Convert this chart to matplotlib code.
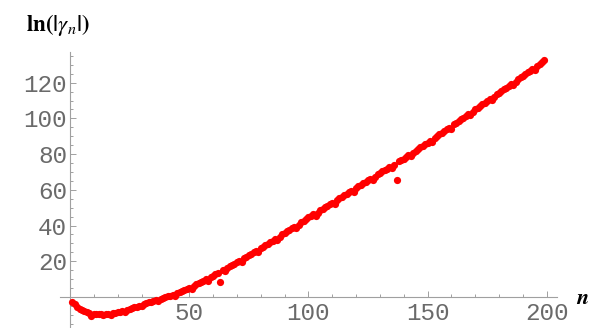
import matplotlib.pyplot as plt
from matplotlib.ticker import MultipleLocator, FixedLocator
import numpy as np

plt.rcParams['mathtext.fontset'] = 'stix'

# n = 1 .. 199
n_vals = np.arange(1, 200)

ln_gamma = [
    -2.6, -4.2, -5.6, -6.6, -7.4, -8.0, -8.5, -9.0, -10.4, -9.4,
    -9.6, -9.8, -9.8, -9.9, -9.7, -9.5, -10.2, -9.1, -8.8, -8.5,
    -8.2, -7.8, -8.6, -7.2, -6.8, -6.3, -5.9, -5.4, -4.9, -5.3,
    -3.9, -3.4, -3.1, -2.6, -2.2, -1.8, -2.4, -1.0, -0.6, -0.3,
    0.3, 0.8, 1.3, 0.8, 2.4, 2.9, 3.4, 3.9, 4.3, 4.8,
    4.6, 6.2, 7.0, 7.7, 8.4, 9.1, 9.8, 9.2, 10.9, 12.0,
    12.7, 13.5, 8.6, 15.0, 14.3, 16.0, 17.2, 18.0, 18.7, 19.5,
    20.3, 19.8, 21.8, 22.6, 23.4, 24.2, 25.0, 25.7, 25.2, 27.3,
    28.2, 29.0, 29.9, 30.7, 31.6, 32.4, 31.8, 33.6, 35.0, 35.8,
    36.7, 37.5, 38.4, 39.3, 38.6, 40.4, 41.9, 42.8, 43.6, 44.5,
    45.3, 46.2, 45.6, 47.2, 48.7, 49.5, 50.3, 51.1, 52.0, 52.8,
    52.3, 54.4, 55.3, 56.1, 56.9, 57.7, 58.5, 59.4, 58.8, 61.0,
    61.9, 62.7, 63.6, 64.4, 65.3, 66.1, 65.6, 67.2, 68.7, 69.5,
    70.3, 71.1, 71.9, 72.7, 72.0, 73.8, 65.6, 75.9, 76.7, 77.5,
    78.4, 79.3, 78.8, 80.6, 82.0, 82.9, 83.8, 84.7, 85.6, 86.5,
    87.4, 86.9, 89.3, 90.2, 91.1, 92.0, 92.9, 93.9, 94.8, 94.3,
    96.6, 97.6, 98.5, 99.4, 100.3, 101.3, 102.2, 101.7, 103.6, 105.0,
    105.9, 106.9, 107.8, 108.8, 109.7, 110.6, 110.2, 112.0, 113.5, 114.4,
    115.4, 116.3, 117.3, 118.2, 119.2, 118.7, 120.6, 122.0, 123.0, 123.9,
    124.9, 125.8, 126.8, 127.7, 127.3, 129.1, 130.6, 131.5, 132.5,
]

x_major = [50, 100, 150, 200]
y_major = [20, 40, 60, 80, 100, 120]

fig = plt.figure(figsize=(5.92, 3.28), dpi=100)
ax = fig.add_axes([60 / 592, 0.0, 497 / 592, 276 / 328])

ax.plot(n_vals, ln_gamma, 'o', color='#ff0000', markersize=5.2,
        markeredgewidth=0, zorder=3)

ax.set_xlim(-4.2, 204.3)
ax.set_ylim(-17.4, 137.2)

# axes crossing at the origin
for side in ('top', 'right'):
    ax.spines[side].set_visible(False)
ax.spines['left'].set_position(('data', 0))
ax.spines['bottom'].set_position(('data', 0))
for side in ('left', 'bottom'):
    ax.spines[side].set_color('#a0a0a0')
    ax.spines[side].set_linewidth(0.8)

ax.xaxis.set_major_locator(FixedLocator(x_major))
ax.yaxis.set_major_locator(FixedLocator(y_major))
ax.xaxis.set_minor_locator(MultipleLocator(10))
ax.yaxis.set_minor_locator(MultipleLocator(5))
ax.tick_params(which='both', direction='in', color='#a0a0a0', width=0.7)
ax.tick_params(which='major', length=4)
ax.tick_params(which='minor', length=2.5)
ax.tick_params(axis='x', pad=4)
ax.tick_params(axis='y', pad=2)

for lab in ax.get_xticklabels() + ax.get_yticklabels():
    lab.set_family('Liberation Mono')
    lab.set_fontsize(17.5)
    lab.set_color('#6a6a6a')

fig.text(26 / 592, 1 - 25 / 328, r'$\mathbf{ln(|}\gamma_{n}\mathbf{|)}$',
         fontsize=16.5, ha='left', va='center')
fig.text(576 / 592, 1 - 298 / 328, r'$\boldsymbol{n}$',
         fontsize=16, ha='left', va='center')

fig.savefig('out.png', dpi=100)
